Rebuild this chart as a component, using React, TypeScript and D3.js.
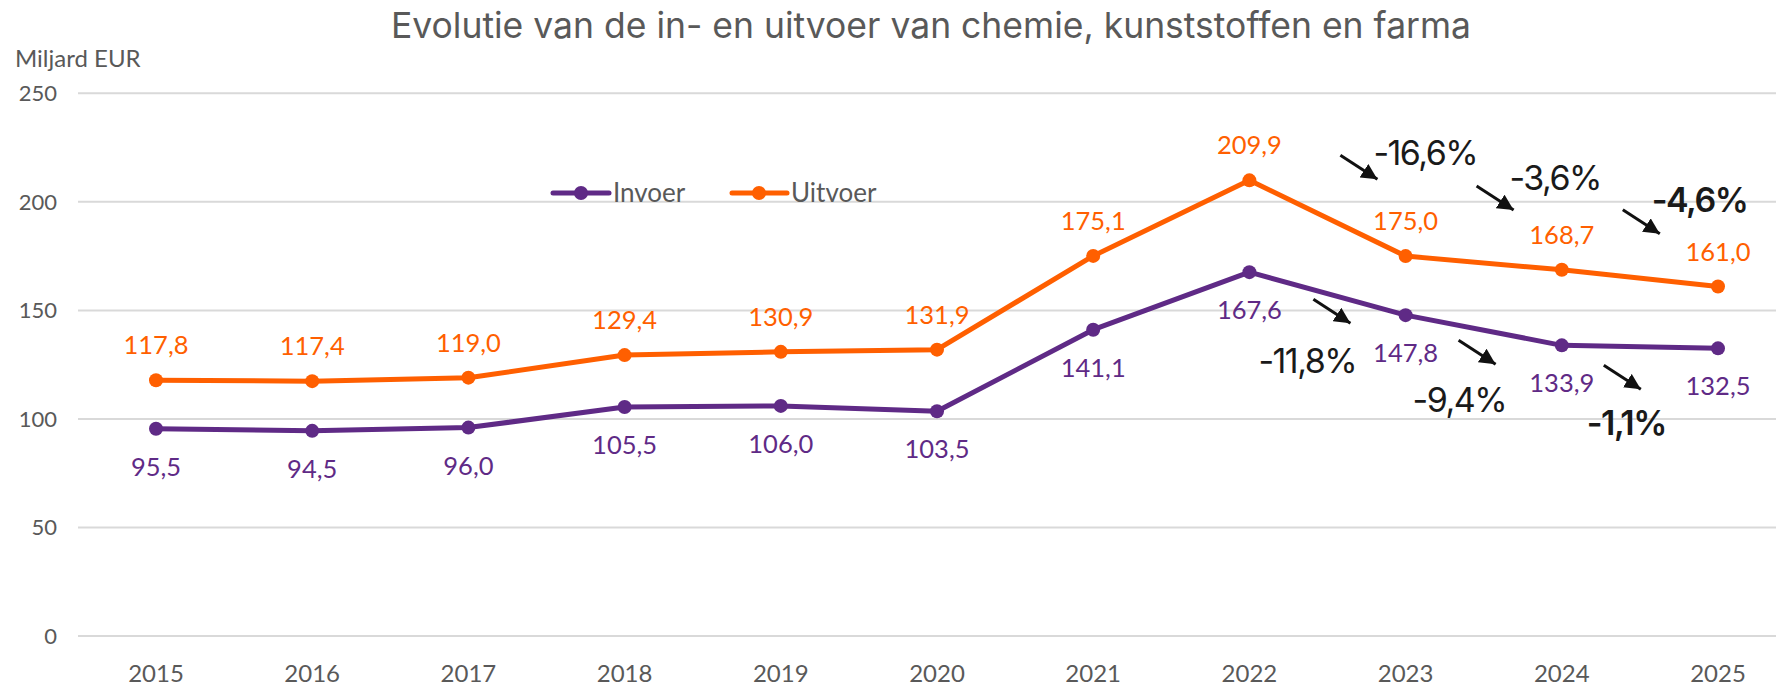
import React from 'react'
import * as d3 from 'd3'

// chart data
const years = ['2015', '2016', '2017', '2018', '2019', '2020', '2021', '2022', '2023', '2024', '2025']
const invoer = [95.5, 94.5, 96.0, 105.5, 106.0, 103.5, 141.1, 167.6, 147.8, 133.9, 132.5]
const uitvoer = [117.8, 117.4, 119.0, 129.4, 130.9, 131.9, 175.1, 209.9, 175.0, 168.7, 161.0]
const yTicks = [0, 50, 100, 150, 200, 250]

// year-on-year change annotations (series, start year, text)
const changeSeries = ['uitvoer', 'uitvoer', 'uitvoer', 'invoer', 'invoer', 'invoer']
const changeFrom = ['2022', '2023', '2024', '2022', '2023', '2024']
const changeText = ['-16,6%', '-3,6%', '-4,6%', '-11,8%', '-9,4%', '-1,1%']
const changeBold = [false, false, true, false, false, true]

// layout offsets for the annotations, relative to the start point
const arrowOffsets = [
  [91, -25], [71, -70], [61, -60],
  [64, 27], [53, 25], [42, 20],
]
const textOffsets = [
  [124, -27], [104, -78], [90, -70],
  [9, 89], [7, 85], [25, 78],
]

const W = 1776
const H = 686
const ORANGE = '#FF5F00'
const PURPLE = '#5F2A86'
const GREY = '#595959'
const axisFont = 'Lato, "Open Sans", sans-serif'
const titleFont = 'Inter, "Noto Sans", sans-serif'

export default function App() {
  const x = d3.scalePoint<string>().domain(years).range([156, 1718])
  const y = d3.scaleLinear().domain([0, 250]).range([636, 93.3])

  const line = d3
    .line<number>()
    .x((d, i) => x(years[i]) as number)
    .y((d) => y(d))

  const seriesOf = (name) => (name === 'uitvoer' ? uitvoer : invoer)
  const fmt = (v) => d3.format('.1f')(v).replace('.', ',')

  return (
    <div style={{ position: 'fixed', left: 0, top: 0 }}>
      <svg width={W} height={H} style={{ display: 'block', background: '#fff' }}>
        <defs>
          <marker
            id="arrowhead"
            markerUnits="userSpaceOnUse"
            markerWidth="18"
            markerHeight="16"
            refX="16"
            refY="8"
            orient="auto"
          >
            <path d="M0,0 L16,8 L0,16 Z" fill="#111" />
          </marker>
        </defs>

        <text
          x={931}
          y={38}
          textAnchor="middle"
          fontFamily={titleFont}
          fontSize={35.5}
          fill={GREY}
        >
          Evolutie van de in- en uitvoer van chemie, kunststoffen en farma
        </text>

        <text x={15} y={67} fontFamily={axisFont} fontSize={24} fill={GREY}>
          Miljard EUR
        </text>

        {/* gridlines + y labels */}
        {yTicks.map((t) => (
          <g key={t}>
            <line x1={78} x2={W} y1={y(t)} y2={y(t)} stroke="#d9d9d9" strokeWidth={2} />
            <text
              x={57}
              y={y(t) + 8}
              textAnchor="end"
              fontFamily={axisFont}
              fontSize={22}
              fill={GREY}
            >
              {t}
            </text>
          </g>
        ))}

        {/* x labels */}
        {years.map((yr) => (
          <text
            key={yr}
            x={x(yr)}
            y={682}
            textAnchor="middle"
            fontFamily={axisFont}
            fontSize={24}
            fill={GREY}
          >
            {yr}
          </text>
        ))}

        {/* legend */}
        <g fontFamily={axisFont} fontSize={26} fill={GREY}>
          <line x1={553} x2={609} y1={193} y2={193} stroke={PURPLE} strokeWidth={5} strokeLinecap="round" />
          <circle cx={581} cy={193} r={7} fill={PURPLE} />
          <text x={613} y={202}>Invoer</text>
          <line x1={732} x2={787} y1={193} y2={193} stroke={ORANGE} strokeWidth={5} strokeLinecap="round" />
          <circle cx={759} cy={193} r={7} fill={ORANGE} />
          <text x={791} y={202}>Uitvoer</text>
        </g>

        {/* series */}
        <path d={line(uitvoer) || ''} fill="none" stroke={ORANGE} strokeWidth={5} strokeLinejoin="round" />
        <path d={line(invoer) || ''} fill="none" stroke={PURPLE} strokeWidth={5} strokeLinejoin="round" />
        {uitvoer.map((v, i) => (
          <circle key={'u' + i} cx={x(years[i])} cy={y(v)} r={7} fill={ORANGE} />
        ))}
        {invoer.map((v, i) => (
          <circle key={'i' + i} cx={x(years[i])} cy={y(v)} r={7} fill={PURPLE} />
        ))}

        {/* data labels */}
        {uitvoer.map((v, i) => (
          <text
            key={'ul' + i}
            x={x(years[i])}
            y={y(v) - 26}
            textAnchor="middle"
            fontFamily={axisFont}
            fontSize={25.5}
            fill={ORANGE}
          >
            {fmt(v)}
          </text>
        ))}
        {invoer.map((v, i) => (
          <text
            key={'il' + i}
            x={x(years[i])}
            y={y(v) + 47}
            textAnchor="middle"
            fontFamily={axisFont}
            fontSize={25.5}
            fill={PURPLE}
          >
            {fmt(v)}
          </text>
        ))}

        {/* change annotations */}
        {changeText.map((txt, k) => {
          const series = seriesOf(changeSeries[k])
          const idx = years.indexOf(changeFrom[k])
          const px = x(changeFrom[k]) as number
          const py = y(series[idx])
          const [ax, ay] = arrowOffsets[k]
          const [tx, ty] = textOffsets[k]
          return (
            <g key={'c' + k}>
              <line
                x1={px + ax}
                y1={py + ay}
                x2={px + ax + 37}
                y2={py + ay + 24}
                stroke="#111"
                strokeWidth={3}
                markerEnd="url(#arrowhead)"
              />
              <text
                x={px + tx}
                y={py + ty + 12}
                fontFamily={titleFont}
                fontSize={34}
                fontWeight={changeBold[k] ? 600 : 400}
                letterSpacing={-1.5}
                fill="#1a1a1a"
              >
                {txt}
              </text>
            </g>
          )
        })}
      </svg>
    </div>
  )
}
